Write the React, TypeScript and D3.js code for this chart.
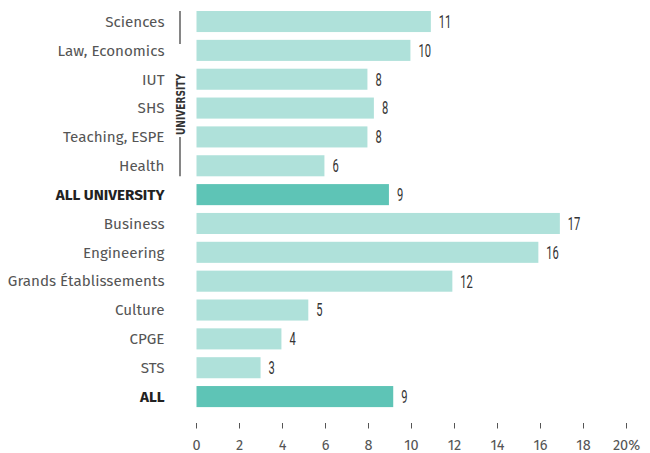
import React from "react";
import * as d3 from "d3";

const categories = [
  "Sciences",
  "Law, Economics",
  "IUT",
  "SHS",
  "Teaching, ESPE",
  "Health",
  "ALL UNIVERSITY",
  "Business",
  "Engineering",
  "Grands Établissements",
  "Culture",
  "CPGE",
  "STS",
  "ALL",
];
const values = [10.9, 9.95, 7.95, 8.25, 7.95, 5.95, 8.95, 16.9, 15.9, 11.9, 5.2, 3.95, 2.98, 9.15];
const valueLabels = ["11", "10", "8", "8", "8", "6", "9", "17", "16", "12", "5", "4", "3", "9"];
const totals = ["ALL UNIVERSITY", "ALL"];
const universityGroup = ["Sciences", "Law, Economics", "IUT", "SHS", "Teaching, ESPE", "Health"];
const xTicks = [0, 2, 4, 6, 8, 10, 12, 14, 16, 18, 20];

const W = 650;
const H = 453;
const LIGHT = "#afe1da";
const DARK = "#5ec4b6";
const FONT = "'Fira Sans', 'Open Sans', sans-serif";

export default function App() {
  const x = d3.scaleLinear().domain([0, 20]).range([196.5, 626.5]);
  const y = d3
    .scaleBand<string>()
    .domain(categories)
    .range([7.1, 411])
    .paddingInner(0.27)
    .paddingOuter(0.135);
  const bw = y.bandwidth();

  const gTop = y(universityGroup[0])!;
  const gBot = y(universityGroup[universityGroup.length - 1])! + bw;

  return (
    <svg
      width={W}
      height={H}
      style={{ position: "absolute", left: 0, top: 0, background: "#fff" }}
    >
      {categories.map((c, i) => {
        const isTotal = totals.includes(c);
        const yy = y(c)!;
        return (
          <g key={c}>
            <rect
              x={x(0)}
              y={yy}
              width={x(values[i]) - x(0)}
              height={bw}
              fill={isTotal ? DARK : LIGHT}
            />
            <text
              x={164.5}
              y={yy + bw / 2}
              dy="0.35em"
              textAnchor="end"
              fontFamily={FONT}
              fontSize={15.2}
              fontWeight={isTotal ? 700 : 400}
              fill={isTotal ? "#222" : "#555"}
            >
              {c}
            </text>
            <text
              transform={`translate(${x(values[i]) + 8},${yy + bw / 2 + 6.4}) scale(0.62,1)`}
              fontFamily="Roboto, sans-serif"
              fontSize={18}
              fontWeight={400}
              fill="#333"
            >
              {valueLabels[i]}
            </text>
          </g>
        );
      })}

      {/* UNIVERSITY bracket */}
      <line x1={180} x2={180} y1={gTop} y2={44} stroke="#444" strokeWidth={1.3} />
      <line x1={180} x2={180} y1={137} y2={gBot} stroke="#444" strokeWidth={1.3} />
      <text
        transform={`translate(${184.5},${104.5}) rotate(-90)`}
        textAnchor="middle"
        fontFamily="'DejaVu Sans Condensed', 'DejaVu Sans', sans-serif"
        fontSize={12}
        fontWeight={700}
        fill="#333"
        textLength={61}
        lengthAdjust="spacingAndGlyphs"
      >
        UNIVERSITY
      </text>

      {/* x axis */}
      {xTicks.map((t) => (
        <g key={t}>
          <line x1={x(t)} x2={x(t)} y1={423} y2={428.5} stroke="#555" strokeWidth={1} />
          <text
            x={x(t)}
            y={450}
            textAnchor="middle"
            fontFamily={FONT}
            fontSize={14.5}
            fill="#555"
          >
            {t === 20 ? "20%" : String(t)}
          </text>
        </g>
      ))}
    </svg>
  );
}
